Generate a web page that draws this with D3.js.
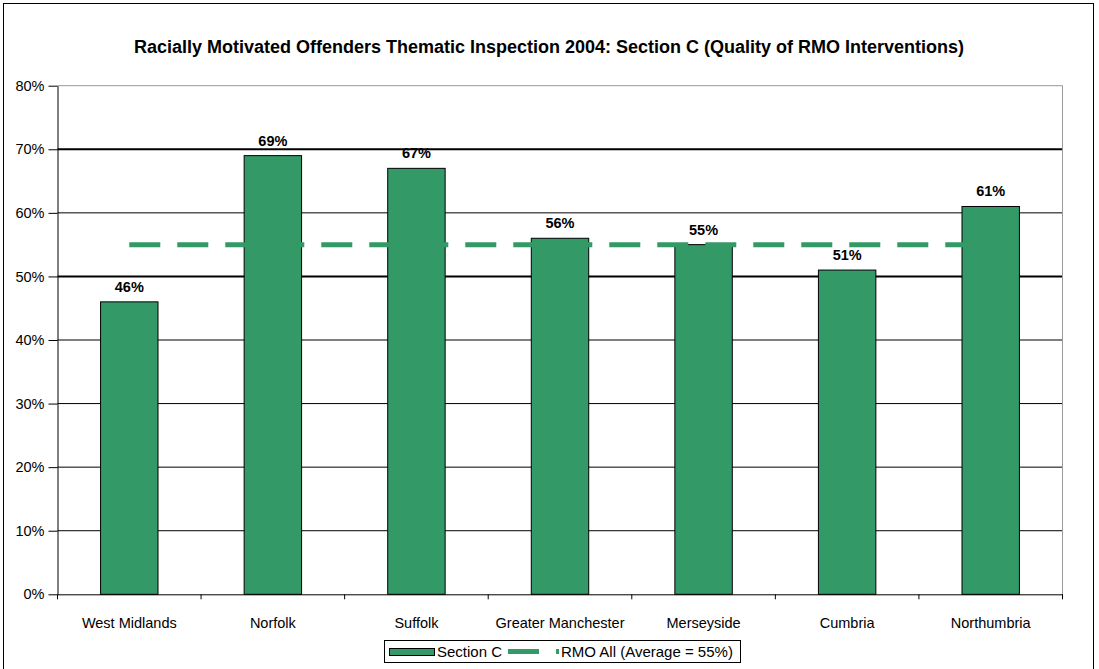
<!DOCTYPE html>
<html>
<head>
<meta charset="utf-8">
<script src="https://cdn.jsdelivr.net/npm/d3@7"></script>
<style>
	body { margin: 0; background: #fff; }
	svg text { font-family: "Liberation Sans", Arial, sans-serif; fill: #000; }
</style>
</head>
<body>
<svg id="chart" width="1099" height="669"></svg>
<script>
"use strict";

var titleText = "Racially Motivated Offenders Thematic Inspection 2004: Section C (Quality of RMO Interventions)";
var areas = ["West Midlands", "Norfolk", "Suffolk", "Greater Manchester", "Merseyside", "Cumbria", "Northumbria"];
var sectionC = [0.46, 0.69, 0.67, 0.56, 0.55, 0.51, 0.61];
var rmoAll = [0.55, 0.55, 0.55, 0.55, 0.55, 0.55, 0.55];
var yTicks = [0, 0.1, 0.2, 0.3, 0.4, 0.5, 0.6, 0.7, 0.8];
var seriesNames = ["Section C", "RMO All (Average = 55%)"];

var Chart = (function(){
	var svg = {},
		green = "#339966",
		left = 57.5, right = 1062.5, top = 85.7, bottom = 594.3;

	function init(el) {
		svg = d3.select("#" + el);
		// outer chart border
		svg.append("rect")
			.attr("x", 3.5).attr("y", 3.5)
			.attr("width", 1090).attr("height", 680)
			.attr("fill", "#fff").attr("stroke", "#000").attr("stroke-width", 1);

		svg.append("text")
			.attr("x", 549).attr("y", 53)
			.attr("text-anchor", "middle")
			.style("font-size", "18px").style("font-weight", "bold")
			.text(titleText);

		drawPlot();
		drawLegend();
	}

	function drawPlot() {
		var x = d3.scaleBand().domain(areas).range([left, right]).padding(0),
			y = d3.scaleLinear().domain([0, 0.8]).range([bottom, top]),
			bw = x.bandwidth();

		// gridlines
		svg.append("g").selectAll("line")
			.data(yTicks.filter(function(d) { return d > 0 && d < 0.8; }))
			.enter().append("line")
			.attr("x1", left).attr("x2", right)
			.attr("y1", function(d) { return y(d); })
			.attr("y2", function(d) { return y(d); })
			.attr("stroke", "#000")
			.attr("stroke-width", function(d) { return (Math.abs(d - 0.5) < 1e-6 || Math.abs(d - 0.7) < 1e-6) ? 2 : 1; });

		// plot border top and right
		svg.append("path")
			.attr("d", "M" + left + "," + top + "H" + right + "V" + bottom)
			.attr("fill", "none").attr("stroke", "#999").attr("stroke-width", 1);

		// bars
		svg.append("g").selectAll("rect")
			.data(sectionC)
			.enter().append("rect")
			.attr("x", function(d, i) { return x(areas[i]) + bw * 0.3; })
			.attr("width", bw * 0.4)
			.attr("y", function(d) { return y(d); })
			.attr("height", function(d) { return bottom - y(d); })
			.attr("fill", green)
			.attr("stroke", "#000").attr("stroke-width", 1);

		// average line
		var line = d3.line()
			.x(function(d, i) { return x(areas[i]) + bw / 2; })
			.y(function(d) { return y(d); });
		svg.append("path")
			.datum(rmoAll)
			.attr("d", line)
			.attr("fill", "none")
			.attr("stroke", green).attr("stroke-width", 5)
			.attr("stroke-dasharray", "31,17");

		// value labels
		svg.append("g").selectAll("text")
			.data(sectionC)
			.enter().append("text")
			.attr("x", function(d, i) { return x(areas[i]) + bw / 2; })
			.attr("y", function(d) { return y(d) - 10; })
			.attr("text-anchor", "middle")
			.style("font-size", "14.5px").style("font-weight", "bold")
			.text(d3.format(".0%"));

		// y axis
		var yAxis = svg.append("g")
			.attr("transform", "translate(" + left + ",0)")
			.call(d3.axisLeft(y).tickValues(yTicks).tickFormat(d3.format(".0%")).tickSize(9).tickPadding(4).tickSizeOuter(0));
		yAxis.select(".domain").attr("stroke", "#000");
		yAxis.selectAll("text").style("font-size", "14.5px").style("font-family", null).attr("fill", "#000");

		// x axis
		var xAxis = svg.append("g")
			.attr("transform", "translate(0," + bottom + ")")
			.call(d3.axisBottom(x).tickSize(0).tickPadding(23).tickSizeOuter(0));
		xAxis.select(".domain").attr("stroke", "#000");
		xAxis.selectAll("text").style("font-size", "14.5px").style("font-family", null).attr("fill", "#000");
		xAxis.selectAll(".sep")
			.data(d3.range(areas.length + 1))
			.enter().append("line")
			.attr("class", "sep")
			.attr("x1", function(i) { return left + i * bw; })
			.attr("x2", function(i) { return left + i * bw; })
			.attr("y1", 0).attr("y2", 5)
			.attr("stroke", "#000");
	}

	function drawLegend() {
		var g = svg.append("g");
		g.append("rect")
			.attr("x", 384.5).attr("y", 640.5)
			.attr("width", 356).attr("height", 22)
			.attr("fill", "#fff").attr("stroke", "#000");
		g.append("rect")
			.attr("x", 389.5).attr("y", 648.5)
			.attr("width", 45).attr("height", 7)
			.attr("fill", green).attr("stroke", "#000");
		g.append("text")
			.attr("x", 437).attr("y", 657)
			.style("font-size", "15px")
			.text(seriesNames[0]);
		g.append("line")
			.attr("x1", 508).attr("x2", 559)
			.attr("y1", 651.5).attr("y2", 651.5)
			.attr("stroke", green).attr("stroke-width", 5)
			.attr("stroke-dasharray", "31,17");
		g.append("text")
			.attr("x", 561).attr("y", 657)
			.style("font-size", "15px")
			.text(seriesNames[1]);
	}

	return {
		"init": init
	};
}());

Chart.init("chart");
</script>
</body>
</html>
